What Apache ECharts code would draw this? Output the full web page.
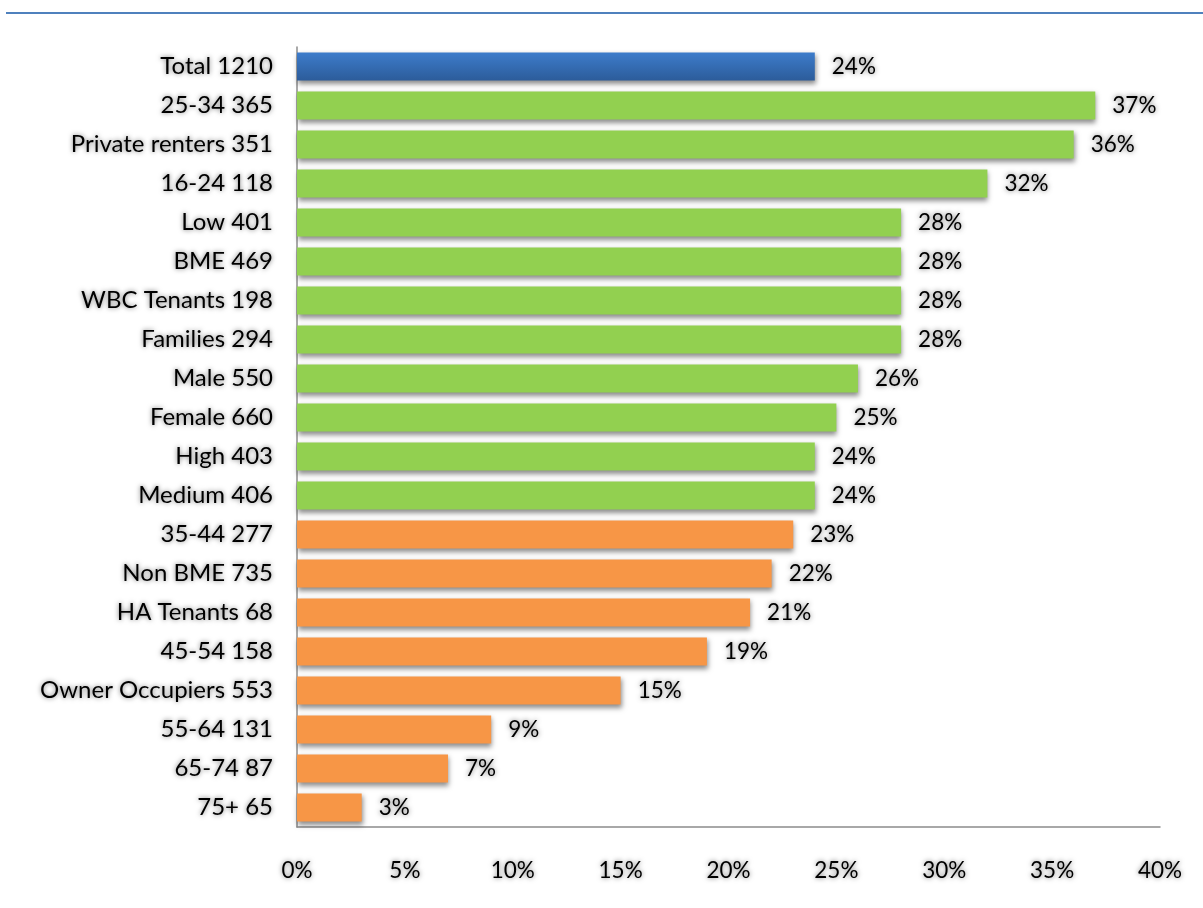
<!DOCTYPE html>
<html><head><meta charset="utf-8">
<script src="https://cdn.jsdelivr.net/npm/echarts@6/dist/echarts.min.js"></script>
<style>html,body{margin:0;padding:0;background:#fff}#c{width:1203px;height:908px}</style>
</head><body><div id="c"></div>
<script>
const categories = ["Total 1210","25-34 365","Private renters 351","16-24 118","Low 401","BME 469","WBC Tenants 198","Families 294","Male 550","Female 660","High 403","Medium 406","35-44 277","Non BME 735","HA Tenants 68","45-54 158","Owner Occupiers 553","55-64 131","65-74 87","75+ 65"];
const values = [24,37,36,32,28,28,28,28,26,25,24,24,23,22,21,19,15,9,7,3];
const groups = ["total","above","above","above","above","above","above","above","above","above","above","above","below","below","below","below","below","below","below","below"];
const xTicks = [0,5,10,15,20,25,30,35,40];

const colors = {
  total: new echarts.graphic.LinearGradient(0,0,0,1,[{offset:0,color:'#3D7CCB'},{offset:1,color:'#2C5C9A'}]),
  above: '#92D050',
  below: '#F79646'
};
const font = 'Lato, "Open Sans", sans-serif';
const shadowText = {textShadowColor:'rgba(0,0,0,0.55)', textShadowBlur:5};

const chart = echarts.init(document.getElementById('c'), null, {renderer:'canvas'});
chart.setOption({
  animation:false,
  graphic:[{type:'line', shape:{x1:6,y1:13,x2:1203,y2:13}, style:{stroke:'#4F81BD', lineWidth:2}}],
  grid:{left:297, right:43, top:47, bottom:81, containLabel:false},
  xAxis:{type:'value', min:0, max:40, interval:5,
    axisLine:{show:true, lineStyle:{color:'#8C8C8C', width:1.5}},
    axisTick:{show:false}, splitLine:{show:false},
    axisLabel:{margin:32, fontSize:22.5, color:'#000', fontFamily:font, formatter:v=>v+'%', ...shadowText,
      customValues: xTicks}
  },
  yAxis:{type:'category', data:categories, inverse:true,
    axisLine:{show:true, lineStyle:{color:'#8C8C8C', width:1.5}},
    axisTick:{show:false},
    axisLabel:{margin:24, fontSize:24, color:'#000', fontFamily:font, ...shadowText}
  },
  series:[{type:'bar', barCategoryGap:'28%',
    data: values.map((v,i)=>({value:v, itemStyle:{color:colors[groups[i]]}})),
    itemStyle:{shadowColor:'rgba(0,0,0,0.45)', shadowBlur:5, shadowOffsetY:3, shadowOffsetX:1},
    label:{show:true, position:'right', distance:17, fontSize:22.5, color:'#000', fontFamily:font, formatter:p=>p.value+'%', ...shadowText}
  }]
});
</script></body></html>
